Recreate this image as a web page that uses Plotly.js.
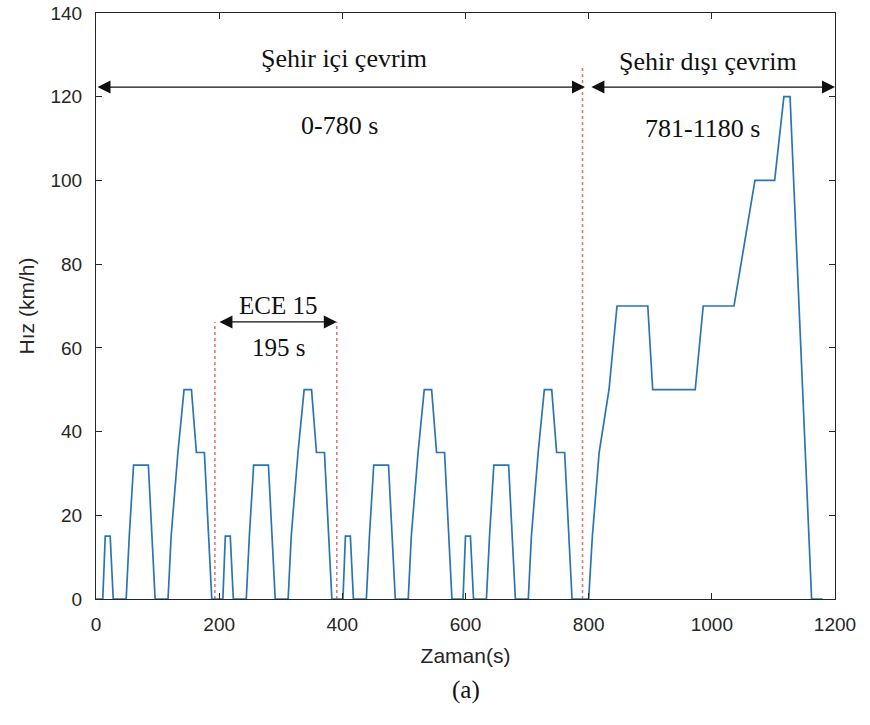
<!DOCTYPE html>
<html>
<head>
<meta charset="utf-8">
<script src="https://cdn.plot.ly/plotly-3.0.1.min.js"></script>
<style>html,body{margin:0;padding:0;background:#fff;}#chart{width:870px;height:725px;}</style>
</head>
<body>
<div id="chart"></div>
<script>
// Drive cycle (time in s, speed in km/h)
const time = [
  0,11,15,23,28,49,54,61,85,96,117,122,133,143,155,163,176,188,195,
  206,210,218,223,244,249,256,280,291,312,317,328,338,350,358,371,383,390,
  401,405,413,418,439,444,451,475,486,507,512,523,533,545,553,566,578,585,
  596,600,608,613,634,639,646,670,681,702,707,718,728,740,748,761,773,780,
  800,806,817,833,846,896,904,973,986,1036,1070,1102,1117,1127,1162,1180
];
const speed = [
  0,0,15,15,0,0,15,32,32,0,0,15,35,50,50,35,35,0,0,
  0,15,15,0,0,15,32,32,0,0,15,35,50,50,35,35,0,0,
  0,15,15,0,0,15,32,32,0,0,15,35,50,50,35,35,0,0,
  0,15,15,0,0,15,32,32,0,0,15,35,50,50,35,35,0,0,
  0,15,35,50,70,70,50,50,70,70,100,100,120,120,0,0
];
// Boundary (red dotted) lines
const boundaryTimes = [193, 391, 790];
const boundaryTops = [66.2, 66.2, 126.9];
// Tick values
const xTicks = [0,200,400,600,800,1000,1200];
const yTicks = [0,20,40,60,80,100,120,140];
// Labels
const labels = {
  urbanTitle: 'Şehir içi çevrim', urbanRange: '0-780 s',
  extraTitle: 'Şehir dışı çevrim', extraRange: '781-1180 s',
  eceTitle: 'ECE 15', eceRange: '195 s',
  xTitle: 'Zaman(s)', yTitle: 'Hız (km/h)', caption: '(a)'
};

const traces = [];
boundaryTimes.forEach((t, i) => {
  traces.push({x:[t,t], y:[0,boundaryTops[i]], mode:'lines', hoverinfo:'skip',
    line:{color:'#e07878', width:1.6, dash:'dot'}, showlegend:false});
});
traces.push({x:time, y:speed, mode:'lines', line:{color:'#2a76b4', width:1.7}, showlegend:false});

const serif = {family:'Liberation Serif, Times New Roman, serif', size:26, color:'#111'};
function txt(x, y, text, size){
  return {x:x, y:y, xref:'x', yref:'y', text:text, showarrow:false,
    font:Object.assign({}, serif, size?{size:size}:{}), xanchor:'center', yanchor:'middle'};
}
function dbl(x0, x1, y){
  return {x:x1, y:y, ax:x0, ay:y, xref:'x', yref:'y', axref:'x', ayref:'y', text:'',
    showarrow:true, arrowside:'end+start', arrowhead:2, startarrowhead:2,
    arrowsize:2, startarrowsize:2, arrowwidth:1.3, arrowcolor:'#111', standoff:0, startstandoff:0};
}

const annotations = [
  dbl(0, 794, 122.3),
  dbl(802, 1200, 122.3),
  dbl(198, 391, 66.2),
  txt(403, 129.2, labels.urbanTitle),
  txt(396, 113.2, labels.urbanRange),
  txt(994, 128.3, labels.extraTitle),
  txt(985, 112.5, labels.extraRange),
  txt(295, 70.2, labels.eceTitle, 25),
  txt(297, 60.2, labels.eceRange, 25),
  {x:0.5, y:-0.155, xref:'paper', yref:'paper', text:labels.caption, showarrow:false,
   font:{family:'Liberation Serif, Times New Roman, serif', size:25, color:'#111'}, xanchor:'center', yanchor:'middle'}
];

const axisCommon = {
  showgrid:false, zeroline:false, showline:true, linecolor:'#262626', linewidth:1,
  mirror:'ticks', ticks:'inside', ticklen:6, tickcolor:'#262626', tickwidth:1,
  tickfont:{family:'Liberation Sans, Arial, sans-serif', size:19, color:'#262626'}
};

const layout = {
  width:870, height:725,
  margin:{l:96, r:35, t:13, b:126},
  paper_bgcolor:'#fff', plot_bgcolor:'#fff',
  xaxis:Object.assign({}, axisCommon, {range:[0,1200], tickvals:xTicks, ticktext:xTicks.map(String),
    ticklabelstandoff:8,
    title:{text:labels.xTitle, standoff:14, font:{family:'Liberation Sans, Arial, sans-serif', size:21, color:'#262626'}}}),
  yaxis:Object.assign({}, axisCommon, {range:[0,140], tickvals:yTicks, ticktext:yTicks.map(String),
    ticklabelstandoff:9,
    title:{text:labels.yTitle, standoff:10, font:{family:'Liberation Sans, Arial, sans-serif', size:21, color:'#262626'}}}),
  annotations:annotations,
  showlegend:false
};

Plotly.newPlot('chart', traces, layout, {staticPlot:true, displayModeBar:false});
</script>
</body>
</html>
